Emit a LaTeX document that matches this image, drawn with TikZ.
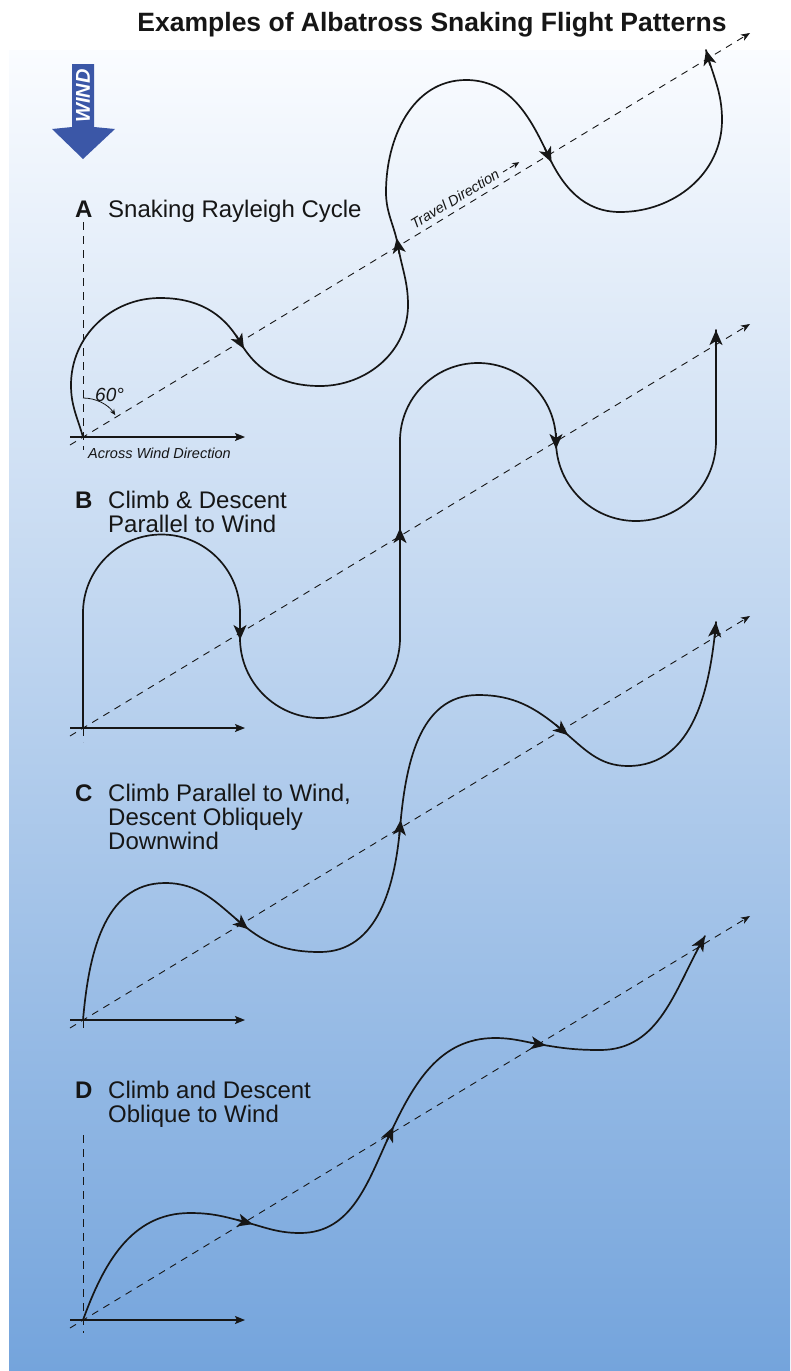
\documentclass[tikz,border=0pt]{standalone}
\usepackage{fontspec}
\setmainfont{Liberation Sans}
\usetikzlibrary{arrows.meta}
\definecolor{bgtop}{RGB}{250,252,255}
\definecolor{bgbot}{RGB}{116,164,220}
\definecolor{windblue}{RGB}{59,87,167}
\definecolor{ink}{RGB}{22,22,22}
\begin{document}
\begin{tikzpicture}[x=1pt,y=1pt,
  flight/.style={ink, line width=1.7pt, line cap=round, line join=round},
  tip/.style={ink, line width=1.7pt, -{Stealth[length=15pt,width=13pt,inset=4pt]}},
  travel/.style={ink, line width=0.9pt, dash pattern=on 7pt off 6pt, -{Stealth[length=9pt,width=7pt,inset=2.5pt]}},
  vdash/.style={ink, line width=0.9pt, dash pattern=on 8pt off 6pt},
  axisline/.style={ink, line width=1.2pt, -{Stealth[length=10pt,width=8pt,inset=2pt]}},
  labeltext/.style={font=\fontsize{24}{28}\selectfont, text=ink, inner sep=0pt, anchor=base west},
  letter/.style={font=\fontsize{24}{28}\selectfont\bfseries, text=ink, inner sep=0pt, anchor=base west},
  smalltext/.style={font=\fontsize{14.5}{17}\selectfont\itshape, text=ink, inner sep=0pt}
]
\useasboundingbox (0,0) rectangle (790,-1371);
\shade[top color=bgtop, bottom color=bgbot] (9,-50) rectangle (790,-1371);

% title
\node[font=\fontsize{26.5}{30}\selectfont\bfseries, text=ink, inner sep=0pt, anchor=base] (title) at (432,-31) {Examples of Albatross Snaking Flight Patterns};

% wind arrow
\fill[windblue] (72,-64) -- (94,-64) -- (94,-127) -- (115,-129) -- (83,-159) -- (52,-129) -- (72,-127) -- cycle;
\node[rotate=90, text=white, font=\fontsize{20}{20}\selectfont\bfseries\itshape, inner sep=0pt] (windlabel) at (83,-96) {WIND};

% ---------------- Panel A ----------------
\node[letter] (Aletter) at (75,-217) {A};
\node[labeltext] (Atext) at (108,-217) {Snaking Rayleigh Cycle};
\coordinate (A0) at (83,-437);
\draw[vdash] (83,-222) -- (83,-450);
\draw[travel] (70,-445) -- (750,-33);
\draw[axisline] (70,-437) -- (245,-437);
\node[smalltext, anchor=base west] (Aacross) at (88,-458) {Across Wind Direction};
\draw[ink, line width=0.8pt, -{Stealth[length=6pt,width=5pt]}] (83,-398) arc[start angle=90, end angle=34, radius=39];
\node[font=\fontsize{19}{20}\selectfont\itshape, text=ink, inner sep=0pt, anchor=base west] (Aangle) at (95,-401) {60°};
\node[smalltext, rotate=31.2] (Atravel) at (455,-199) {Travel Direction};
\draw[ink, line width=0.9pt, dash pattern=on 5pt off 3pt, -{Stealth[length=7pt,width=6pt,inset=2pt]}] (503,-172) -- ++(31.2:19);

\coordinate (A1) at (71,-385);
\coordinate (A2) at (160,-298);
\coordinate (A3) at (240,-342);
\coordinate (A4) at (320,-386);
\coordinate (A5) at (408,-305);
\coordinate (A6) at (398,-246);
\coordinate (A7) at (386,-192);
\coordinate (A8) at (466,-80);
\coordinate (A9) at (548,-155);
\coordinate (A10) at (620,-212);
\coordinate (A11) at (722,-120);
\coordinate (A12) at (706,-50);
\draw[flight] (A0) to[out=106,in=-90] (A1) to[out=90,in=180] (A2) to[out=0,in=120] (A3)
  to[out=-60,in=180] (A4) to[out=0,in=-90] (A5) to[out=90,in=-80] (A6)
  to[out=100,in=-90] (A7) to[out=90,in=180] (A8) to[out=0,in=115] (A9)
  to[out=-65,in=180] (A10) to[out=0,in=-90] (A11) to[out=90,in=-75] (A12);
\draw[tip] (A3) ++(-60:-8) -- ++(-60:16);
\draw[tip] (A6) ++(100:-8) -- ++(100:16);
\draw[tip] (A9) ++(-65:-8) -- ++(-65:16);
\draw[tip] (A12) ++(105:-16) -- (A12);

% ---------------- Panel B ----------------
\node[letter] (Bletter) at (75,-508) {B};
\node[labeltext] (Btext1) at (108,-508) {Climb \& Descent};
\node[labeltext] (Btext2) at (108,-532) {Parallel to Wind};
\coordinate (B0) at (83,-728);
\draw[vdash] (83,-728) -- (83,-742);
\draw[travel] (70,-736) -- (750,-324);
\draw[axisline] (70,-728) -- (245,-728);
\coordinate (B1) at (83,-613);
\coordinate (B2) at (240,-638);
\coordinate (B3) at (400,-441);
\coordinate (B4) at (716,-330);
\draw[flight] (B0) -- (B1) arc[start angle=180, end angle=0, radius=78.5] -- (B2)
  arc[start angle=180, end angle=360, radius=80] -- (B3)
  arc[start angle=180, end angle=0, radius=78] arc[start angle=180, end angle=360, radius=80] -- (B4);
\coordinate (BX1) at (240,-632);
\coordinate (BX2) at (400,-536);
\coordinate (BX3) at (556,-441);
\draw[tip] (BX1) ++(-90:-8) -- ++(-90:16);
\draw[tip] (BX2) ++(90:-8) -- ++(90:16);
\draw[tip] (BX3) ++(-90:-8) -- ++(-90:16);
\draw[tip] (B4) ++(90:-16) -- (B4);

% ---------------- Panel C ----------------
\node[letter] (Cletter) at (75,-801) {C};
\node[labeltext] (Ctext1) at (108,-801) {Climb Parallel to Wind,};
\node[labeltext] (Ctext2) at (108,-825) {Descent Obliquely};
\node[labeltext] (Ctext3) at (108,-849) {Downwind};
\coordinate (C0) at (83,-1020);
\draw[vdash] (83,-1020) -- (83,-1034);
\draw[travel] (70,-1028) -- (750,-616);
\draw[axisline] (70,-1020) -- (245,-1020);
\coordinate (C1) at (165,-883);
\coordinate (C2) at (242,-924);
\coordinate (C3) at (320,-952);
\coordinate (C4) at (400,-828);
\coordinate (C5) at (478,-695);
\coordinate (C6) at (562,-730);
\coordinate (C7) at (628,-766);
\coordinate (C8) at (716,-622);
\draw[flight] (C0) to[out=85,in=180] (C1) to[out=0,in=140] (C2) to[out=-40,in=180] (C3)
  to[out=0,in=-95] (C4) to[out=85,in=180] (C5) to[out=0,in=140] (C6)
  to[out=-40,in=180] (C7) to[out=0,in=-95] (C8);
\draw[tip] (C2) ++(-40:-8) -- ++(-40:16);
\draw[tip] (C4) ++(85:-8) -- ++(85:16);
\draw[tip] (C6) ++(-40:-8) -- ++(-40:16);
\draw[tip] (C8) ++(85:-16) -- (C8);

% ---------------- Panel D ----------------
\node[letter] (Dletter) at (75,-1098) {D};
\node[labeltext] (Dtext1) at (108,-1098) {Climb and Descent};
\node[labeltext] (Dtext2) at (108,-1122) {Oblique to Wind};
\coordinate (D0) at (83,-1320);
\draw[vdash] (83,-1135) -- (83,-1333);
\draw[travel] (70,-1328) -- (750,-916);
\draw[axisline] (70,-1320) -- (245,-1320);
\coordinate (D1) at (190,-1213);
\coordinate (D2) at (245,-1222);
\coordinate (D3) at (300,-1233);
\coordinate (D4) at (390,-1134);
\coordinate (D5) at (495,-1038);
\coordinate (D6) at (538,-1044);
\coordinate (D7) at (600,-1050);
\coordinate (D8) at (705,-936);
\draw[flight] (D0) to[out=70,in=180] (D1) to[out=0,in=165] (D2) to[out=-15,in=180] (D3)
  to[out=0,in=-115] (D4) to[out=65,in=180] (D5) to[out=0,in=170] (D6)
  to[out=-10,in=180] (D7) to[out=0,in=-120] (D8);
\draw[tip] (D2) ++(-15:-8) -- ++(-15:16);
\draw[tip] (D4) ++(65:-8) -- ++(65:16);
\draw[tip] (D6) ++(-10:-8) -- ++(-10:16);
\draw[tip] (D8) ++(60:-16) -- (D8);
\end{tikzpicture}
\end{document}
